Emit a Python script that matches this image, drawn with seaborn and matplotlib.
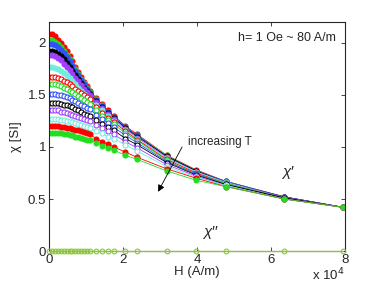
import matplotlib
matplotlib.use("Agg")
import matplotlib.pyplot as plt
import seaborn as sns
import numpy as np
from matplotlib.ticker import FuncFormatter

# applied field, recorded in Oe (1 Oe ~ 79.58 A/m)
H_oe = [0, 10, 20, 30, 40, 50, 60, 70, 80, 90, 100, 110, 120, 130, 140,
        160, 180, 200, 220, 260, 300, 400, 500, 600, 800, 1000]
H = np.array(H_oe) * 79.577

# chi' for each temperature (low T -> high T)
chi_1 = [2.08, 2.08, 2.06, 2.03, 2.00, 1.96, 1.92, 1.87, 1.82, 1.77, 1.72, 1.67, 1.62, 1.58, 1.54,
         1.47, 1.41, 1.35, 1.30, 1.20, 1.12, 0.92, 0.78, 0.67, 0.52, 0.42]
chi_2 = [2.03, 2.03, 2.01, 1.99, 1.96, 1.92, 1.88, 1.84, 1.79, 1.75, 1.70, 1.65, 1.61, 1.57, 1.53,
         1.46, 1.40, 1.34, 1.29, 1.19, 1.11, 0.92, 0.77, 0.67, 0.52, 0.42]
chi_3 = [1.99, 1.99, 1.98, 1.96, 1.93, 1.90, 1.86, 1.82, 1.78, 1.73, 1.69, 1.64, 1.60, 1.56, 1.52,
         1.45, 1.39, 1.34, 1.29, 1.19, 1.11, 0.91, 0.77, 0.67, 0.52, 0.42]
chi_4 = [1.92, 1.92, 1.91, 1.89, 1.87, 1.84, 1.81, 1.77, 1.73, 1.69, 1.65, 1.61, 1.57, 1.54, 1.51,
         1.44, 1.38, 1.33, 1.28, 1.18, 1.10, 0.91, 0.77, 0.66, 0.52, 0.42]
chi_5 = [1.88, 1.88, 1.87, 1.85, 1.83, 1.80, 1.77, 1.74, 1.70, 1.66, 1.63, 1.59, 1.56, 1.53, 1.50,
         1.43, 1.37, 1.32, 1.27, 1.17, 1.09, 0.90, 0.76, 0.66, 0.52, 0.42]
chi_6 = [1.77, 1.77, 1.76, 1.75, 1.73, 1.71, 1.69, 1.66, 1.63, 1.60, 1.57, 1.54, 1.51, 1.48, 1.46,
         1.40, 1.35, 1.30, 1.25, 1.16, 1.08, 0.89, 0.76, 0.66, 0.51, 0.42]
chi_7 = [1.67, 1.67, 1.67, 1.66, 1.65, 1.63, 1.62, 1.60, 1.58, 1.56, 1.54, 1.52, 1.50, 1.48, 1.46,
         1.38, 1.33, 1.28, 1.24, 1.15, 1.07, 0.88, 0.75, 0.65, 0.51, 0.42]
chi_8 = [1.60, 1.60, 1.60, 1.59, 1.58, 1.57, 1.56, 1.54, 1.53, 1.51, 1.49, 1.47, 1.45, 1.43, 1.41,
         1.35, 1.30, 1.26, 1.22, 1.13, 1.06, 0.87, 0.74, 0.65, 0.51, 0.42]
chi_9 = [1.51, 1.51, 1.51, 1.50, 1.50, 1.49, 1.48, 1.47, 1.45, 1.44, 1.42, 1.40, 1.39, 1.37, 1.36,
         1.31, 1.27, 1.23, 1.19, 1.11, 1.04, 0.86, 0.74, 0.64, 0.51, 0.42]
chi_10 = [1.42, 1.42, 1.42, 1.42, 1.41, 1.40, 1.40, 1.39, 1.38, 1.36, 1.35, 1.34, 1.32, 1.31, 1.30,
          1.26, 1.22, 1.19, 1.16, 1.08, 1.02, 0.85, 0.73, 0.64, 0.51, 0.42]
chi_11 = [1.35, 1.35, 1.35, 1.35, 1.34, 1.34, 1.33, 1.32, 1.31, 1.30, 1.29, 1.28, 1.27, 1.26, 1.25,
          1.21, 1.18, 1.15, 1.12, 1.05, 0.99, 0.83, 0.72, 0.63, 0.50, 0.42]
chi_12 = [1.27, 1.27, 1.27, 1.27, 1.26, 1.26, 1.25, 1.25, 1.24, 1.23, 1.22, 1.21, 1.20, 1.19, 1.18,
          1.15, 1.13, 1.10, 1.08, 1.02, 0.96, 0.81, 0.71, 0.63, 0.50, 0.42]
chi_13 = [1.20, 1.20, 1.20, 1.20, 1.19, 1.19, 1.18, 1.18, 1.17, 1.16, 1.16, 1.15, 1.14, 1.13, 1.12,
          1.08, 1.05, 1.03, 1.00, 0.95, 0.90, 0.79, 0.70, 0.62, 0.50, 0.42]
chi_14 = [1.13, 1.13, 1.13, 1.13, 1.13, 1.12, 1.12, 1.11, 1.11, 1.10, 1.10, 1.09, 1.08, 1.07, 1.07,
          1.04, 1.01, 0.99, 0.97, 0.92, 0.88, 0.77, 0.68, 0.62, 0.50, 0.42]

# chi'' (out of phase part), essentially zero
chi2 = [0.0] * len(H_oe)

series = [chi_1, chi_2, chi_3, chi_4, chi_5, chi_6, chi_7,
          chi_8, chi_9, chi_10, chi_11, chi_12, chi_13, chi_14]
cycle = ["#ff0000", "#22dd22", "#3050ff", "#000000", "#a040ff", "#70eedd"]
filled = [True] * 6 + [False] * 6 + [True] * 2

sns.set_style("ticks")
plt.rcParams["font.family"] = ["Liberation Sans", "DejaVu Sans"]
plt.rcParams["xtick.direction"] = "in"
plt.rcParams["ytick.direction"] = "in"

fig = plt.figure(figsize=(3.82, 2.88), dpi=100)
ax = fig.add_axes([0.128, 0.128, 0.775, 0.796])

for i, vals in enumerate(series):
    c = cycle[i % 6]
    sns.lineplot(x=H, y=vals, ax=ax, color=c, marker="o", markersize=3.6,
                 markerfacecolor=c if filled[i] else "white",
                 markeredgecolor=c, markeredgewidth=0.8, linewidth=0.6)

sns.lineplot(x=H, y=chi2, ax=ax, color="#8cc63f", marker="o", markersize=3.4,
             markerfacecolor="none", markeredgecolor="#8cc63f",
             markeredgewidth=0.8, linewidth=0.9, clip_on=False, zorder=5)

ax.set_xlim(0, 80000)
ax.set_ylim(0, 2.2)
ax.set_xticks([0, 20000, 40000, 60000, 80000])
ax.set_yticks([0, 0.5, 1, 1.5, 2])
ax.xaxis.set_major_formatter(FuncFormatter(lambda v, p: "%g" % (v / 1e4)))
ax.yaxis.set_major_formatter(FuncFormatter(lambda v, p: "%g" % v))
ax.tick_params(labelsize=9.5, length=3, width=0.6, top=True, right=True, pad=2)
for s in ax.spines.values():
    s.set_linewidth(0.8)

ax.set_xlabel("H (A/m)", fontsize=9.5, labelpad=0)
ax.set_ylabel("χ [SI]", fontsize=9.5, labelpad=4)
ax.text(1.0, -0.105, "x 10$^4$", transform=ax.transAxes, ha="right", va="center", fontsize=9.5)

ax.text(0.97, 0.93, "h= 1 Oe ~ 80 A/m", transform=ax.transAxes, ha="right", va="center", fontsize=9)
ax.text(63000, 0.76, "χ′", ha="left", va="center", fontsize=11, style="italic")
ax.text(43500, 0.18, "χ′′", ha="center", va="center", fontsize=11, style="italic")
ax.text(46200, 1.05, "increasing T", ha="center", va="center", fontsize=8.5)
ax.annotate("", xy=(29500, 0.57), xytext=(36000, 1.0),
            arrowprops=dict(arrowstyle="-|>", color="black", lw=0.6, mutation_scale=10,
                            shrinkA=0, shrinkB=0))

fig.savefig("out.png", dpi=100)
